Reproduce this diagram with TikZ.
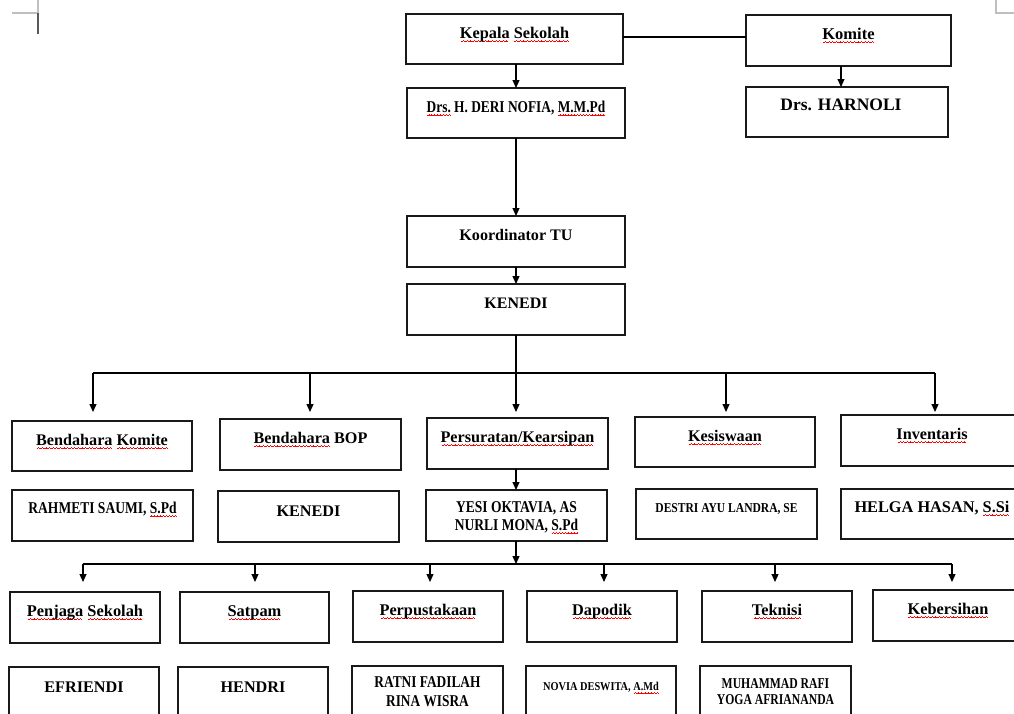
\documentclass[tikz,border=0pt]{standalone}
\usepackage{fontspec}
\setmainfont{Liberation Serif}
\usepackage{graphicx}
\usetikzlibrary{arrows.meta}
\newcommand\wv{\hbox{\rule[-3.9pt]{0.9pt}{0.7pt}\rule[-3.3pt]{0.9pt}{0.7pt}\rule[-2.7pt]{0.9pt}{0.7pt}\rule[-3.3pt]{0.9pt}{0.7pt}}}
\newcommand\sq[1]{\setbox0=\hbox{#1}\rlap{\color{red}\cleaders\wv\hskip\wd0\relax}\box0\relax}
\tikzset{
  boxs/.style={draw=black!90, line width=1.3pt, rectangle, inner sep=0pt, outer sep=0pt},
  lbl/.style={inner sep=0pt, outer sep=0pt, anchor=base, font=\bfseries},
  conn/.style={line width=1.1pt, draw=black},
  arr/.style={line width=1.1pt, draw=black, -{Triangle[length=8pt,width=7pt]}},
  cropmark/.style={line width=1.2pt}
}
\newcommand\bx[5]{%
  \pgfmathsetmacro\bw{#4-#2}\pgfmathsetmacro\bh{#5-#3}%
  \node[boxs, minimum width=\bw pt, minimum height=\bh pt] (#1) at ({(#2+#4)/2},{(#3+#5)/2}) {};}
% name, node-for-x, baseline, size, xscale, text
\newcommand\tx[6]{%
  \node[lbl] (#1) at (#2.center |- 0,#3) {\fontsize{#4}{#4}\selectfont\scalebox{#5}[1]{#6}};}
\begin{document}
\begin{tikzpicture}[x=1pt,y=-1pt]
\useasboundingbox (0,0) rectangle (1014,713);
\fill[white] (0,0) rectangle (1014,713);
\begin{scope}
\clip (0,0) rectangle (1014,713);
% corner marks
\draw[cropmark, black!25] (12,13) -- (38,13);
\draw[cropmark, black!25] (38,0) -- (38,13);
\draw[cropmark, black!65] (38,13) -- (38,34);
\draw[cropmark, black!25] (996,0) -- (996,13) -- (1014,13);
% boxes
\bx{kepala}{406}{14}{623}{64}
\bx{komite}{746}{15}{951}{66}
\bx{deri}{407}{88}{625}{138}
\bx{harnoli}{746}{87}{948}{137}
\bx{koord}{407}{216}{625}{267}
\bx{kenedi}{407}{284}{625}{335}
\bx{bk}{12}{421}{192}{471}
\bx{bbop}{220}{419}{401}{470}
\bx{pers}{427}{418}{608}{469}
\bx{kes}{635}{417}{815}{467}
\bx{inv}{841}{415}{1023}{466}
\bx{rahmeti}{12}{490}{193}{541}
\bx{kenedib}{218}{491}{399}{542}
\bx{yesi}{426}{490}{607}{541}
\bx{destri}{636}{489}{817}{539}
\bx{helga}{841}{489}{1023}{539}
\bx{penjaga}{10}{592}{160}{643}
\bx{satpam}{180}{592}{329}{643}
\bx{perpus}{353}{591}{503}{642}
\bx{dapodik}{527}{591}{677}{642}
\bx{teknisi}{702}{591}{852}{642}
\bx{kebersihan}{873}{590}{1023}{641}
\bx{efriendi}{9}{667}{159}{720}
\bx{hendri}{178}{667}{328}{720}
\bx{ratni}{352}{666}{503}{720}
\bx{novia}{526}{666}{676}{720}
\bx{muhammad}{700}{666}{851}{720}
% texts
\tx{kepala-t}{kepala}{38}{16.3}{1}{\sq{Kepala} \sq{Sekolah}}
\tx{komite-t}{komite}{39}{16.5}{1}{\sq{Komite}}
\tx{deri-t}{deri}{112}{16.5}{0.81}{\sq{Drs.} H. DERI NOFIA, \sq{M.M.Pd}}
\node[lbl] (harnoli-t) at (841,110) {\fontsize{17.5}{17.5}\selectfont Drs. HARNOLI};
\tx{koord-t}{koord}{240}{16.1}{1}{Koordinator TU}
\tx{kenedi-t}{kenedi}{308}{16}{1}{KENEDI}
\tx{bk-t}{bk}{445}{16.2}{1}{\sq{Bendahara} \sq{Komite}}
\tx{bbop-t}{bbop}{443}{16.2}{1}{\sq{Bendahara} BOP}
\tx{pers-t}{pers}{442}{16.2}{1}{\sq{Persuratan/Kearsipan}}
\tx{kes-t}{kes}{441}{16.2}{1}{\sq{Kesiswaan}}
\tx{inv-t}{inv}{439}{16.2}{1}{\sq{Inventaris}}
\tx{rahmeti-t}{rahmeti}{513}{16.5}{0.82}{RAHMETI SAUMI, \sq{S.Pd}}
\tx{kenedib-t}{kenedib}{516}{16.2}{1}{KENEDI}
\tx{yesi-t1}{yesi}{512}{16.5}{0.82}{YESI OKTAVIA, AS}
\tx{yesi-t2}{yesi}{530}{16.5}{0.82}{NURLI MONA, \sq{S.Pd}}
\tx{destri-t}{destri}{512}{13.6}{0.85}{DESTRI AYU LANDRA, SE}
\tx{helga-t}{helga}{512}{16.3}{1}{HELGA HASAN, \sq{S.Si}}
\tx{penjaga-t}{penjaga}{616}{16.4}{1}{\sq{Penjaga} \sq{Sekolah}}
\tx{satpam-t}{satpam}{616}{16.4}{1}{\sq{Satpam}}
\tx{perpus-t}{perpus}{615}{16.3}{1}{\sq{Perpustakaan}}
\tx{dapodik-t}{dapodik}{615}{16.3}{1}{\sq{Dapodik}}
\tx{teknisi-t}{teknisi}{615}{16.3}{1}{\sq{Teknisi}}
\tx{kebersihan-t}{kebersihan}{614}{16.3}{1}{\sq{Kebersihan}}
\tx{efriendi-t}{efriendi}{692}{16.2}{1}{EFRIENDI}
\tx{hendri-t}{hendri}{692}{16.2}{1}{HENDRI}
\tx{ratni-t1}{ratni}{687}{16.5}{0.81}{RATNI FADILAH}
\tx{ratni-t2}{ratni}{706}{16.5}{0.81}{RINA WISRA}
\tx{novia-t}{novia}{690}{12}{0.86}{NOVIA DESWITA, \sq{A.Md}}
\tx{muhammad-t1}{muhammad}{688}{15}{0.78}{MUHAMMAD RAFI}
\tx{muhammad-t2}{muhammad}{704}{15}{0.78}{YOGA AFRIANANDA}
% connectors top
\draw[conn] (kepala.east |- 0,37) -- (komite.west |- 0,37);
\draw[arr] (deri.north |- kepala.south) -- (deri.north);
\coordinate (kh) at (841,66);
\draw[arr] (kh) -- (kh |- harnoli.north);
\draw[arr] (deri.south) -- (koord.north);
\draw[arr] (koord.south) -- (kenedi.north);
% first bus
\coordinate (bus1) at (516,373);
\coordinate (b1a) at (93,373);
\coordinate (b1b) at (310,373);
\coordinate (b1d) at (726,373);
\coordinate (b1e) at (935,373);
\draw[conn] (kenedi.south) -- (bus1);
\draw[conn] (b1a) -- (b1e);
\draw[arr, shorten >=9pt] (b1a) -- (b1a |- bk.north);
\draw[arr, shorten >=7pt] (b1b) -- (b1b |- bbop.north);
\draw[arr, shorten >=6pt] (bus1) -- (bus1 |- pers.north);
\draw[arr, shorten >=5pt] (b1d) -- (b1d |- kes.north);
\draw[arr, shorten >=3pt] (b1e) -- (b1e |- inv.north);
% persuratan chain
\draw[arr] (bus1 |- pers.south) -- (bus1 |- yesi.north);
\coordinate (bus2) at (516,564);
\draw[arr] (bus2 |- yesi.south) -- (bus2);
\coordinate (b2a) at (83,564);
\coordinate (b2b) at (255,564);
\coordinate (b2c) at (430,564);
\coordinate (b2d) at (604,564);
\coordinate (b2e) at (775,564);
\coordinate (b2f) at (952,564);
\draw[conn] (b2a) -- (b2f);
\draw[arr, shorten >=10pt] (b2a) -- (b2a |- penjaga.north);
\draw[arr, shorten >=10pt] (b2b) -- (b2b |- satpam.north);
\draw[arr, shorten >=9pt] (b2c) -- (b2c |- perpus.north);
\draw[arr, shorten >=9pt] (b2d) -- (b2d |- dapodik.north);
\draw[arr, shorten >=9pt] (b2e) -- (b2e |- teknisi.north);
\draw[arr, shorten >=8pt] (b2f) -- (b2f |- kebersihan.north);
\end{scope}
\end{tikzpicture}
\end{document}
